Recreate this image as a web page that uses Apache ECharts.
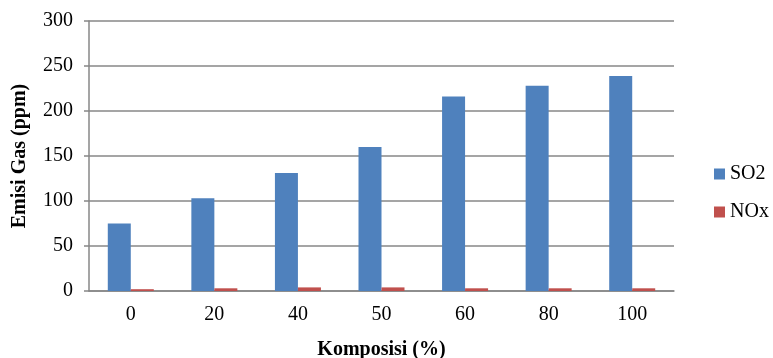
<!DOCTYPE html>
<html>
<head>
<meta charset="utf-8">
<script src="https://cdn.jsdelivr.net/npm/echarts@6/dist/echarts.min.js"></script>
<style>
html,body{margin:0;padding:0;background:#fff;}
#chart{width:773px;height:358px;}
</style>
</head>
<body>
<div id="chart"></div>
<script>
const categories = ['0', '20', '40', '50', '60', '80', '100'];
const so2 = [75, 103, 131, 160, 216, 228, 239];
const nox = [2, 3, 4, 4, 3, 3, 3];
const yTicks = { min: 0, max: 300, interval: 50 };

const font = '"Liberation Serif", "Times New Roman", serif';
const chart = echarts.init(document.getElementById('chart'));
chart.setOption({
  animation: false,
  backgroundColor: '#ffffff',
  grid: { left: 89, right: 99, top: 21, bottom: 67, containLabel: false, outerBoundsMode: 'none' },
  legend: {
    orient: 'vertical',
    left: 709,
    top: 159,
    itemWidth: 11,
    itemHeight: 11,
    itemGap: 18,
    icon: 'rect',
    textStyle: { fontFamily: font, fontSize: 20, color: '#000' },
    data: ['SO2', 'NOx']
  },
  xAxis: {
    type: 'category',
    data: categories,
    name: 'Komposisi (%)',
    nameLocation: 'middle',
    nameGap: 49,
    nameTextStyle: { fontFamily: font, fontSize: 20, fontWeight: 'bold', color: '#000' },
    axisLine: { lineStyle: { color: '#878787', width: 1.5 } },
    axisTick: { show: false },
    axisLabel: { fontFamily: font, fontSize: 20, color: '#000', margin: 14 }
  },
  yAxis: {
    type: 'value',
    min: yTicks.min, max: yTicks.max, interval: yTicks.interval,
    name: 'Emisi Gas (ppm)',
    nameLocation: 'middle',
    nameRotate: 90,
    nameGap: 59,
    nameTextStyle: { fontFamily: font, fontSize: 20, fontWeight: 'bold', color: '#000' },
    axisLine: { show: true, lineStyle: { color: '#878787', width: 1.5 } },
    axisTick: { show: true, inside: false, length: 5, lineStyle: { color: '#878787', width: 1.5 } },
    splitLine: { lineStyle: { color: '#878787', width: 1.5 } },
    axisLabel: { fontFamily: font, fontSize: 20, color: '#000', margin: 16 }
  },
  series: [
    { name: 'SO2', type: 'bar', data: so2, barWidth: 23, barGap: '0%',
      itemStyle: { color: '#4F81BD' } },
    { name: 'NOx', type: 'bar', data: nox, barWidth: 23, barGap: '0%',
      itemStyle: { color: '#C0504D' } }
  ]
});
</script>
</body>
</html>
